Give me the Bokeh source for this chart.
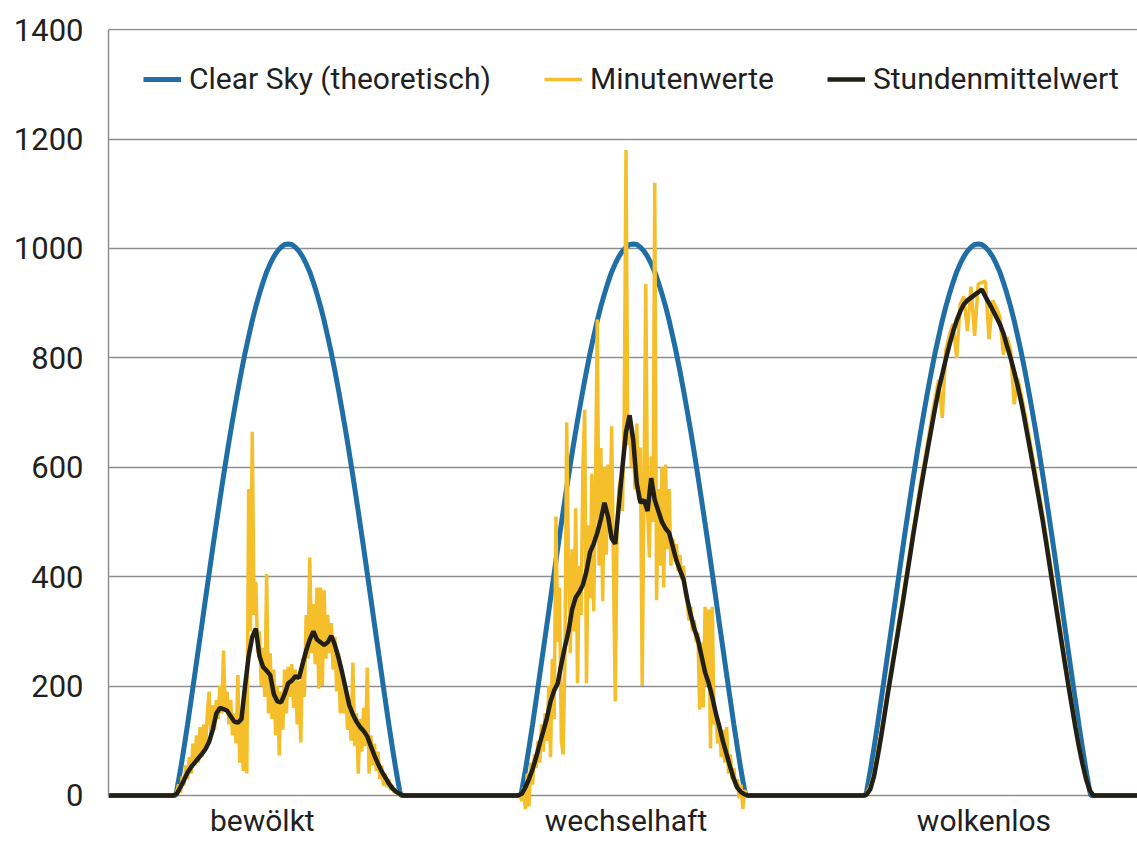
import numpy as np
from bokeh.plotting import figure
from bokeh.models import Range1d, FixedTicker, Legend, LegendItem, ColumnDataSource
from bokeh.core.properties import value
from bokeh.embed import file_html
from bokeh.resources import INLINE

FONT = "Roboto"

# ---------------- data (W/m², time in hours) ----------------
day_labels = ["bewölkt", "wechselhaft", "wolkenlos"]
y_ticks = [0, 200, 400, 600, 800, 1000, 1200, 1400]
series_names = ["Clear Sky (theoretisch)", "Minutenwerte", "Stundenmittelwert"]

# theoretical clear-sky irradiance, identical profile for each of the 3 days
clear_sky_hour = [4.67, 4.75, 5.0, 5.25, 5.5, 5.75, 6.0, 6.25, 6.5, 6.75, 7.0, 7.25, 7.5, 7.75,
                  8.0, 8.25, 8.5, 8.75, 9.0, 9.25, 9.5, 9.75, 10.0, 10.25, 10.5, 10.75, 11.0,
                  11.25, 11.5, 11.75, 12.0, 12.25, 12.5, 12.75, 13.0, 13.25, 13.5, 13.75, 14.0,
                  14.25, 14.5, 14.75, 15.0, 15.25, 15.5, 15.75, 16.0, 16.25, 16.5, 16.75, 17.0,
                  17.25, 17.5, 17.75, 18.0, 18.25, 18.5, 18.75, 19.0, 19.25, 19.5, 19.75, 20.0,
                  20.25, 20.33]
clear_sky_wm2 = [0, 9, 46, 87, 130, 175, 221, 267, 313, 360, 406, 452, 497, 541,
                 584, 626, 666, 704, 741, 776, 809, 839, 868, 894, 917, 938, 957,
                 972, 985, 995, 1002, 1007, 1008, 1007, 1002, 995, 985, 972, 957,
                 938, 917, 894, 868, 839, 809, 776, 741, 704, 666, 626, 584,
                 541, 497, 452, 406, 360, 313, 267, 221, 175, 130, 87, 46,
                 9, 0]

# minute values (sampled), start 4:30 each day
minute_start_hour = 4.5
minute_step_bewoelkt = 0.125
minute_bewoelkt = [
    0, 0, 8, 20, 5, 35, 18, 55,
    30, 70, 40, 95, 55, 110, 60, 125,
    70, 130, 85, 150, 190, 110, 165, 120,
    175, 140, 200, 150, 265, 160, 190, 130,
    175, 110, 150, 95, 220, 60, 150, 45,
    190, 40, 560, 300, 665, 330, 390, 260,
    300, 200, 270, 180, 405, 150, 260, 140,
    230, 110, 200, 73, 190, 120, 230, 150,
    235, 180, 240, 160, 230, 130, 210, 97,
    250, 180, 330, 250, 435, 260, 350, 240,
    380, 195, 380, 200, 375, 250, 330, 260,
    315, 230, 290, 190, 260, 150, 220, 150,
    200, 120, 175, 100, 243, 90, 150, 40,
    140, 80, 160, 90, 234, 40, 110, 55,
    95, 45, 80, 30, 55, 18, 40, 15,
    30, 10, 18, 5, 10, 2, 4, 0,
    0]
minute_step_wechselhaft = 0.125
minute_wechselhaft = [
    0, 0, -10, 15, -25, 40, -20, 60,
    20, 75, 50, 100, 60, 130, 80, 150,
    100, 200, 70, 250, 140, 510, 280, 380,
    100, 75, 250, 682, 420, 260, 450, 300,
    525, 205, 420, 330, 600, 705, 205, 494,
    360, 588, 337, 560, 870, 420, 635, 355,
    600, 440, 605, 480, 675, 420, 172, 480,
    560, 580, 520, 700, 1180, 640, 690, 600,
    660, 560, 680, 540, 636, 200, 560, 935,
    520, 435, 620, 500, 1120, 357, 560, 420,
    600, 380, 605, 450, 560, 420, 470, 440,
    460, 410, 440, 395, 420, 370, 355, 320,
    345, 300, 320, 280, 298, 157, 280, 161,
    345, 200, 340, 86, 345, 130, 150, 95,
    130, 70, 120, 60, 125, 40, 75, 30,
    50, 15, 30, -5, 20, -25, 10, 0,
    0]
minute_step_wolkenlos = 0.25
minute_wolkenlos = [
    0, 4, 18, 42, 78, 118, 158, 200,
    242, 280, 322, 360, 405, 445, 490, 530,
    572, 610, 648, 688, 725, 760, 690, 815,
    842, 862, 800, 898, 912, 849, 930, 840,
    935, 938, 940, 834, 905, 892, 876, 806,
    838, 815, 715, 762, 732, 698, 662, 625,
    588, 550, 512, 470, 427, 384, 340, 298,
    255, 212, 172, 132, 95, 60, 30, 8,
    0]

# hourly running mean, 15-minute samples from 4:30
hourly_start_hour = 4.5
hourly_step = 0.25
hourly_bewoelkt = [
    0, 3, 15, 28, 42, 52, 60, 68,
    76, 85, 98, 120, 150, 160, 158, 155,
    145, 135, 133, 140, 200, 255, 290, 305,
    255, 235, 228, 220, 185, 172, 170, 185,
    205, 210, 218, 215, 240, 265, 285, 300,
    285, 280, 275, 280, 292, 275, 252, 225,
    195, 165, 148, 135, 125, 118, 108, 90,
    73, 58, 44, 33, 22, 13, 7, 3,
    0]
hourly_wechselhaft = [
    0, 3, 15, 30, 48, 70, 95, 118,
    142, 172, 192, 205, 240, 272, 300, 340,
    362, 372, 385, 410, 445, 460, 480, 505,
    535, 510, 470, 460, 530, 600, 665, 695,
    650, 570, 535, 540, 520, 580, 540, 520,
    500, 488, 480, 455, 430, 412, 395, 360,
    330, 305, 285, 255, 225, 205, 180, 150,
    125, 98, 75, 52, 30, 14, 6, 2,
    0]
hourly_wolkenlos = [
    0, 2, 12, 35, 70, 108, 150, 192,
    232, 272, 312, 352, 395, 437, 480, 520,
    560, 598, 635, 672, 708, 742, 770, 798,
    824, 848, 868, 885, 898, 905, 910, 915,
    920, 925, 912, 900, 888, 875, 862, 845,
    822, 800, 775, 748, 718, 684, 648, 612,
    575, 538, 500, 458, 415, 372, 330, 288,
    246, 205, 165, 126, 90, 58, 30, 10,
    0]

# ---------------- layout constants ----------------
HOURS_PER_DAY = 24
X_END = 71.58
Y_START, Y_END = -87.8, 1402
day_label_hour = [10.7, 36.0, 60.9]
DAY_LABEL_Y = -46
COL_CLEAR = "#1f6ea6"
COL_MIN = "#f5bf2b"
COL_HOUR = "#221f17"
COL_TEXT = "#231f20"
COL_GRID = "#8e8e8e"
FS = "30px"
FS_TICK = "31px"


def full_series(day_lists, start, steps):
    xs, ys = [0.0], [0.0]
    for d, (vals, step) in enumerate(zip(day_lists, steps)):
        hrs = start + step * np.arange(len(vals))
        xs.extend(list(d * HOURS_PER_DAY + hrs))
        ys.extend(vals)
    xs.append(3 * HOURS_PER_DAY)
    ys.append(0.0)
    return xs, ys


cx, cy = [0.0], [0.0]
for d in range(3):
    cx.extend([d * HOURS_PER_DAY + h for h in clear_sky_hour])
    cy.extend(clear_sky_wm2)
cx.append(3 * HOURS_PER_DAY)
cy.append(0.0)

mx, my = full_series([minute_bewoelkt, minute_wechselhaft, minute_wolkenlos], minute_start_hour,
                     [minute_step_bewoelkt, minute_step_wechselhaft, minute_step_wolkenlos])
hx, hy = full_series([hourly_bewoelkt, hourly_wechselhaft, hourly_wolkenlos], hourly_start_hour,
                     [hourly_step] * 3)

src_clear = ColumnDataSource(dict(x=cx, y=cy))
src_min = ColumnDataSource(dict(x=mx, y=my))
src_hour = ColumnDataSource(dict(x=hx, y=hy))
src_lab = ColumnDataSource(dict(x=day_label_hour, y=[DAY_LABEL_Y] * 3, text=day_labels))

p = figure(width=1137, height=843, output_backend="svg", toolbar_location=None,
           x_range=Range1d(0, X_END), y_range=Range1d(Y_START, Y_END),
           min_border_left=108, min_border_right=0, min_border_top=28, min_border_bottom=0)
p.outline_line_color = None
p.background_fill_color = "white"
p.border_fill_color = "white"

p.xaxis.visible = False
p.xgrid.visible = False

p.yaxis.ticker = FixedTicker(ticks=y_ticks)
p.ygrid.ticker = FixedTicker(ticks=y_ticks)
p.ygrid.grid_line_color = COL_GRID
p.ygrid.grid_line_width = 1.5
p.yaxis.bounds = (0, 1400)
p.yaxis.axis_line_color = COL_GRID
p.yaxis.axis_line_width = 1.5
p.yaxis.major_tick_line_color = None
p.yaxis.minor_tick_line_color = None
p.yaxis.major_tick_out = 0
p.yaxis.major_tick_in = 0
p.yaxis.major_label_standoff = 25
p.yaxis.major_label_text_font = FONT
p.yaxis.major_label_text_font_size = FS_TICK
p.yaxis.major_label_text_color = COL_TEXT

r_clear = p.line("x", "y", source=src_clear, line_color=COL_CLEAR, line_width=5)
r_min = p.line("x", "y", source=src_min, line_color=COL_MIN, line_width=3.5)
r_hour = p.line("x", "y", source=src_hour, line_color=COL_HOUR, line_width=4.5)

p.text(x="x", y="y", text="text", source=src_lab, text_font=value(FONT),
       text_font_size=value(FS), text_align="center", text_baseline="alphabetic",
       text_color=COL_TEXT)

legend = Legend(items=[LegendItem(label=series_names[0], renderers=[r_clear]),
                       LegendItem(label=series_names[1], renderers=[r_min]),
                       LegendItem(label=series_names[2], renderers=[r_hour])],
                location=(35, 747), orientation="horizontal", margin=0, padding=0,
                spacing=53, glyph_width=38, glyph_height=20, label_standoff=8,
                label_text_font=FONT, label_text_font_size=FS, label_text_color=COL_TEXT,
                border_line_color=None, background_fill_alpha=0)
p.add_layout(legend)

open("out.html", "w").write(file_html(p, INLINE))
